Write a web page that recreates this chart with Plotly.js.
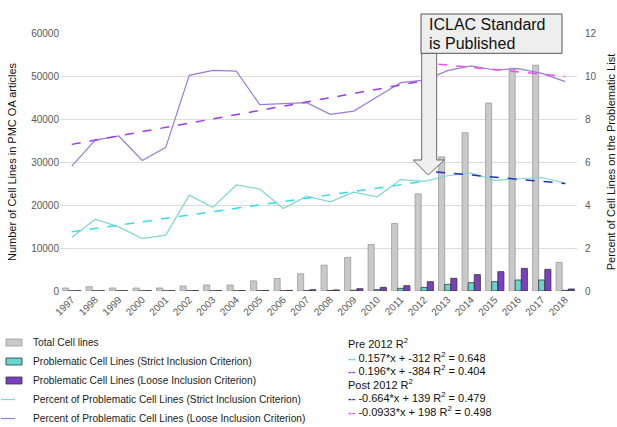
<!DOCTYPE html>
<html>
<head>
<meta charset="utf-8">
<script src="https://cdn.plot.ly/plotly-3.0.1.min.js"></script>
<style>
html,body{margin:0;padding:0;background:#fff;}
#chart{width:617px;height:427px;}
</style>
</head>
<body>
<div id="chart"></div>
<script>
// ---- data ----
var years = [1997,1998,1999,2000,2001,2002,2003,2004,2005,2006,2007,2008,2009,2010,2011,2012,2013,2014,2015,2016,2017,2018];
var yearLabels = ["1997","1998","1999","2000","2001","2002","2003","2004","2005","2006","2007","2008","2009","2010","2011","2012","2013","2014","2015","2016","2017","2018"];
var totalCellLines = [700,1000,700,700,700,1150,1400,1400,2350,2900,4000,6000,7800,10800,15700,22600,31200,36800,43700,51800,52500,6650];
var strictCellLines = [40,40,40,40,40,50,50,50,60,70,90,120,180,300,620,850,1550,1940,2170,2560,2560,150];
var looseCellLines = [80,80,80,80,80,100,100,110,130,150,300,250,540,850,1240,2170,2950,3800,4500,5270,5040,470];
var pctStrict = [2.49,3.34,2.98,2.44,2.60,4.46,3.89,4.93,4.74,3.84,4.41,4.15,4.60,4.38,5.18,5.10,5.36,5.48,5.15,5.20,5.28,5.02];
var pctLoose = [5.81,7.02,7.21,6.07,6.68,10.03,10.26,10.23,8.67,8.71,8.76,8.22,8.37,9.04,9.69,9.81,10.25,10.47,10.28,10.34,10.12,9.74];
// trend line end points
var preStrictX = [1997, 2012], preStrictY = [2.75, 5.10];
var preLooseX = [1997, 2012], preLooseY = [6.82, 9.78];
var postStrictX = [2012.5, 2018], postStrictY = [5.54, 5.00];
var postLooseX = [2012.6, 2018], postLooseY = [10.55, 9.98];
var legendNames = ["Total Cell lines","Problematic Cell Lines (Strict Inclusion Criterion)","Problematic Cell Lines (Loose Inclusion Criterion)","Percent of Problematic Cell Lines (Strict Inclusion Criterion)","Percent of Problematic Cell Lines (Loose Inclusion Criterion)"];
var eqLines = [
  'Pre 2012 R<sup>2</sup>',
  '<b><span style="color:#33dcef">--</span></b> 0.157*x + -312 R<sup>2</sup> = 0.648',
  '<b><span style="color:#9b3cf0">--</span></b> 0.196*x + -384 R<sup>2</sup> = 0.404',
  'Post 2012 R<sup>2</sup>',
  '<b><span style="color:#2233bb">--</span></b> -0.664*x + 139 R<sup>2</sup> = 0.479',
  '<b><span style="color:#f050f0">--</span></b> -0.0933*x + 198 R<sup>2</sup> = 0.498'
];

// ---- layout geometry helpers (pixels -> paper) ----
var L = 60, R = 40, T = 33, B = 136, W = 617, H = 427;
var pw = W - L - R, ph = H - T - B;
function px(x){ return (x - L) / pw; }
function py(y){ return (H - B - y) / ph; }

var FONT = 'Liberation Sans, Arial, sans-serif';

var traces = [
  {type:'bar', x:years, y:totalCellLines, name:legendNames[0],
   marker:{color:'#c9c9c9', line:{color:'#9a9a9a', width:0.8}}},
  {type:'bar', x:years, y:strictCellLines, name:legendNames[1],
   marker:{color:'#66d6cf', line:{color:'#333', width:0.8}}},
  {type:'bar', x:years, y:looseCellLines, name:legendNames[2],
   marker:{color:'#7b3fc2', line:{color:'#333', width:0.8}}},
  {type:'scatter', mode:'lines', x:years, y:pctStrict, yaxis:'y2', name:legendNames[3],
   line:{color:'#7fd8cf', width:1.2}},
  {type:'scatter', mode:'lines', x:years, y:pctLoose, yaxis:'y2', name:legendNames[4],
   line:{color:'#9a7ed2', width:1.2}},
  {type:'scatter', mode:'lines', x:preStrictX, y:preStrictY, yaxis:'y2', showlegend:false,
   line:{color:'#33dcef', width:1.5, dash:'dash'}},
  {type:'scatter', mode:'lines', x:preLooseX, y:preLooseY, yaxis:'y2', showlegend:false,
   line:{color:'#9b3cf0', width:1.5, dash:'dash'}},
  {type:'scatter', mode:'lines', x:postStrictX, y:postStrictY, yaxis:'y2', showlegend:false,
   line:{color:'#2233bb', width:1.5, dash:'dash'}},
  {type:'scatter', mode:'lines', x:postLooseX, y:postLooseY, yaxis:'y2', showlegend:false,
   line:{color:'#f050f0', width:1.5, dash:'dash'}}
];

var annotations = [];
var eqY = [342.7, 356.7, 370.3, 383.8, 397.3, 410.8];
for (var i = 0; i < eqLines.length; i++) {
  annotations.push({xref:'paper', yref:'paper', x:px(346), y:py(eqY[i]), xanchor:'left', yanchor:'middle',
    text:eqLines[i], showarrow:false, font:{family:FONT, size:11, color:'#111'}});
}
annotations.push({xref:'paper', yref:'paper', x:px(427), y:py(25), xanchor:'left', yanchor:'middle',
  text:'ICLAC Standard', showarrow:false, font:{family:FONT, size:16, color:'#111'}});
annotations.push({xref:'paper', yref:'paper', x:px(427), y:py(43.5), xanchor:'left', yanchor:'middle',
  text:'is Published', showarrow:false, font:{family:FONT, size:16, color:'#111'}});

var arrowPts = [[421.7,53],[421.7,160],[413.3,160],[428.3,175],[444.3,160],[436.7,160],[436.7,53]];
var arrowPath = arrowPts.map(function(p,k){ return (k===0?'M':'L') + px(p[0]).toFixed(4) + ',' + py(p[1]).toFixed(4); }).join(' ') + ' Z';

var shapes = [
  {type:'path', xref:'paper', yref:'paper', path:arrowPath, fillcolor:'#efefef', line:{color:'#6a6a6a', width:1}, layer:'above'},
  {type:'rect', xref:'paper', yref:'paper', x0:px(421), x1:px(562), y0:py(53.3), y1:py(14), fillcolor:'#eeeeee', line:{color:'#555', width:1}, layer:'above'}
];

var layout = {
  width:W, height:H,
  margin:{l:L, r:R, t:T, b:B, pad:0, autoexpand:false},
  paper_bgcolor:'#fff', plot_bgcolor:'#fff',
  font:{family:FONT, size:10, color:'#595959'},
  barmode:'group', bargap:0.22, bargroupgap:0,
  showlegend:true,
  legend:{x:px(-7), y:py(328), xanchor:'left', yanchor:'top', orientation:'v',
    font:{family:FONT, size:10.2, color:'#222'}, bgcolor:'rgba(0,0,0,0)', traceorder:'normal', tracegroupgap:0, itemwidth:30},
  xaxis:{type:'linear', range:[1996.5, 2018.5], tickmode:'array', tickvals:years, ticktext:yearLabels,
    tickangle:-45, showgrid:false, zeroline:false, showline:false, ticks:'',
    tickfont:{family:FONT, size:10, color:'#595959'}, fixedrange:true},
  yaxis:{range:[0,60000], dtick:10000, tickformat:'d', showgrid:true, gridcolor:'#dcdcdc', gridwidth:1,
    zeroline:false, showline:false, ticks:'', tickfont:{family:FONT, size:10, color:'#595959'},
    title:{text:'Number of Cell Lines in PMC OA articles', font:{family:FONT, size:11, color:'#111'}, standoff:12}},
  yaxis2:{range:[0,12], dtick:2, overlaying:'y', side:'right', showgrid:false, zeroline:false, showline:false, ticks:'',
    ticklabelstandoff:7,
    tickfont:{family:FONT, size:10, color:'#595959'},
    title:{text:'Percent of Cell Lines on the Problematic List', font:{family:FONT, size:11, color:'#111'}, standoff:12}},
  annotations:annotations,
  shapes:shapes
};

Plotly.newPlot('chart', traces, layout, {displayModeBar:false, staticPlot:true}).then(function(gd){
  // widen bar legend symbols to short rectangles like the reference
  var paths = gd.querySelectorAll('.legend .legendpoints path');
  paths.forEach(function(p){
    var d = p.getAttribute('d') || '';
    if (/^M6,6H-6V-6H6Z$/.test(d)) p.setAttribute('d','M-7,3.5H9V-3.5H-7Z');
  });
  var lines = gd.querySelectorAll('.legend .legendlines path');
  lines.forEach(function(p){ p.setAttribute('d','M8,0h14'); });
});
</script>
</body>
</html>
